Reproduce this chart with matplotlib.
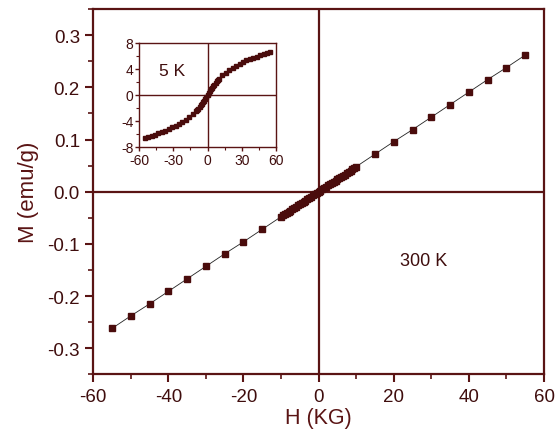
import numpy as np
import matplotlib.pyplot as plt
from matplotlib.ticker import MultipleLocator

# main loop at 300 K
H_300 = [-55, -50, -45, -40, -35, -30, -25, -20, -15,
         -10, -9.5, -9, -8.5, -8, -7.5, -7, -6.5, -6, -5.5, -5, -4.5, -4, -3.5, -3, -2.5, -2, -1.5, -1, -0.5, 0,
         0.5, 1, 1.5, 2, 2.5, 3, 3.5, 4, 4.5, 5, 5.5, 6, 6.5, 7, 7.5, 8, 8.5, 9, 9.5, 10,
         15, 20, 25, 30, 35, 40, 45, 50, 55]
M_300 = [-0.262, -0.238, -0.215, -0.191, -0.167, -0.143, -0.119, -0.096, -0.072,
         -0.048, -0.045, -0.043, -0.040, -0.038, -0.036, -0.033, -0.031, -0.029, -0.026, -0.024,
         -0.021, -0.019, -0.017, -0.014, -0.012, -0.010, -0.007, -0.005, -0.002, 0.0,
         0.002, 0.005, 0.007, 0.010, 0.012, 0.014, 0.017, 0.019, 0.021, 0.024,
         0.026, 0.029, 0.031, 0.033, 0.036, 0.038, 0.040, 0.043, 0.045, 0.048,
         0.072, 0.096, 0.119, 0.143, 0.167, 0.191, 0.215, 0.238, 0.262]

# inset, 5 K
H_5 = [-55, -52, -49, -46, -43, -40, -37, -34, -31, -28, -25, -22, -19, -16, -13,
       -10, -9, -8, -7, -6, -5, -4, -3, -2, -1, 0,
       1, 2, 3, 4, 5, 6, 7, 8, 9, 10,
       13, 16, 19, 22, 25, 28, 31, 34, 37, 40, 43, 46, 49, 52, 55]
M_5 = [-6.6, -6.5, -6.3, -6.1, -5.9, -5.7, -5.5, -5.3, -5.0, -4.8, -4.5, -4.2, -3.8, -3.4, -3.0,
       -2.5, -2.3, -2.1, -1.9, -1.6, -1.4, -1.1, -0.9, -0.6, -0.3, 0.0,
       0.3, 0.6, 0.9, 1.1, 1.4, 1.6, 1.9, 2.1, 2.3, 2.5,
       3.0, 3.4, 3.8, 4.2, 4.5, 4.8, 5.0, 5.3, 5.5, 5.7, 5.9, 6.1, 6.3, 6.5, 6.6]

col = '#5a1414'
mk = '#4a0c0c'
txt = '#3f0d0d'

plt.rcParams['font.family'] = 'Liberation Sans'
plt.rcParams['axes.unicode_minus'] = False

fig = plt.figure(figsize=(5.58, 4.39), dpi=100)
ax = fig.add_axes([0.167, 0.145, 0.808, 0.832])
ax.plot(H_300, M_300, color='#222222', lw=0.6, zorder=2)
ax.plot(H_300, M_300, 's', color=mk, ms=5, lw=0, zorder=3)
ax.axhline(0, color=col, lw=1.6, zorder=1)
ax.axvline(0, color=col, lw=1.6, zorder=1)
ax.set_xlim(-60, 60)
ax.set_ylim(-0.35, 0.35)
ax.xaxis.set_minor_locator(MultipleLocator(10))
ax.yaxis.set_minor_locator(MultipleLocator(0.05))
ax.set_yticks([-0.3, -0.2, -0.1, 0.0, 0.1, 0.2, 0.3])
ax.set_yticklabels(['-0.3', '-0.2', '-0.1', '0.0', '0.1', '0.2', '0.3'])
ax.set_xticks([-60, -40, -20, 0, 20, 40, 60])
ax.set_xticklabels(['-60', '-40', '-20', '0', '20', '40', '60'])
for s in ax.spines.values():
    s.set_color(col)
    s.set_linewidth(1.6)
ax.tick_params(which='both', direction='out', colors=col, labelcolor=txt,
               top=False, right=False)
ax.tick_params(which='major', length=6, width=1.5, labelsize=13.5)
ax.tick_params(which='minor', length=3.5, width=1.2)
ax.set_xlabel('H (KG)', fontsize=15.5, color=col, labelpad=2)
ax.set_ylabel('M (emu/g)', fontsize=16, color=col, labelpad=6)
ax.text(28, -0.132, '300 K', fontsize=13, color=txt, ha='center', va='center')

ins = fig.add_axes([0.249, 0.663, 0.246, 0.237])
ins.plot(H_5, M_5, color='#222222', lw=0.6, zorder=2)
ins.plot(H_5, M_5, 's', color=mk, ms=2.2, lw=0, zorder=3)
ins.axhline(0, color=col, lw=1.0, zorder=1)
ins.axvline(0, color=col, lw=1.0, zorder=1)
ins.set_xlim(-60, 60)
ins.set_ylim(-8, 8)
ins.set_xticks([-60, -30, 0, 30, 60])
ins.set_yticks([-8, -4, 0, 4, 8])
ins.xaxis.set_minor_locator(MultipleLocator(15))
ins.yaxis.set_minor_locator(MultipleLocator(2))
for s in ins.spines.values():
    s.set_color(col)
    s.set_linewidth(1.0)
ins.tick_params(which='both', direction='out', colors=col, labelcolor=txt,
                top=False, right=False)
ins.tick_params(axis='x', which='major', pad=1.5)
ins.tick_params(axis='y', which='major', pad=1)
ins.tick_params(which='major', length=3, width=1.0, labelsize=10)
ins.tick_params(which='minor', length=2, width=0.8)
ins.text(-31, 3.7, '5 K', fontsize=12.5, color=txt, ha='center', va='center')

fig.savefig('out.png', dpi=100)
